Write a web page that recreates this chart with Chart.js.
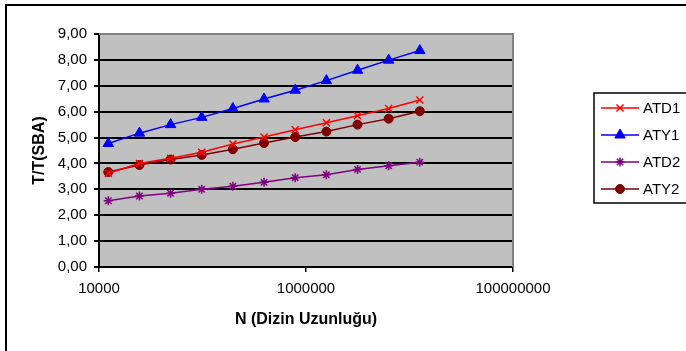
<!DOCTYPE html>
<html>
<head>
<meta charset="utf-8">
<script src="https://cdn.jsdelivr.net/npm/chart.js@4/dist/chart.umd.min.js"></script>
<style>
html,body{margin:0;padding:0;background:#fff;}
#wrap{width:686px;height:351px;position:relative;}
</style>
</head>
<body>
<div id="wrap"><canvas id="c" width="686" height="351"></canvas></div>
<script>
const nValues = [12288, 24576, 49152, 98304, 196608, 393216, 786432, 1572864, 3145728, 6291456, 12582912];
const seriesNames = ["ATD1", "ATY1", "ATD2", "ATY2"];
const atd1 = [3.62, 4.00, 4.20, 4.43, 4.75, 5.02, 5.30, 5.57, 5.84, 6.12, 6.45];
const aty1 = [4.77, 5.17, 5.50, 5.78, 6.12, 6.49, 6.83, 7.20, 7.60, 7.99, 8.36];
const atd2 = [2.56, 2.74, 2.85, 3.00, 3.12, 3.27, 3.45, 3.56, 3.77, 3.91, 4.05];
const aty2 = [3.67, 3.94, 4.15, 4.33, 4.55, 4.79, 5.02, 5.23, 5.50, 5.73, 6.02];
const xTickValues = [10000, 1000000, 100000000];
const yMin = 0, yMax = 9, yStep = 1;

const toPts = arr => arr.map((v, i) => ({x: nValues[i], y: v}));

const styles = [
  {color: '#FF0000', pointStyle: 'crossRot', radius: 5, bw: 1.5},
  {color: '#0000FF', pointStyle: 'triangle', radius: 6, bw: 1},
  {color: '#800080', pointStyle: 'star', radius: 4.5, bw: 1.5},
  {color: '#800000', pointStyle: 'circle', radius: 4.5, bw: 1}
];
const allData = [atd1, aty1, atd2, aty2];

const datasets = allData.map((arr, i) => ({
  label: seriesNames[i],
  data: toPts(arr),
  borderColor: styles[i].color,
  backgroundColor: styles[i].color,
  pointBackgroundColor: styles[i].color,
  pointBorderColor: styles[i].color,
  pointStyle: styles[i].pointStyle,
  pointRadius: styles[i].radius,
  pointBorderWidth: styles[i].bw,
  borderWidth: 1.5,
  showLine: true,
  tension: 0
}));

const decor = {
  id: 'decor',
  beforeDraw(chart) {
    const {ctx, chartArea: a} = chart;
    ctx.save();
    ctx.fillStyle = '#fff';
    ctx.fillRect(0, 0, chart.width, chart.height);
    ctx.fillStyle = '#C0C0C0';
    ctx.fillRect(a.left, a.top, a.right - a.left, a.bottom - a.top);
    ctx.restore();
  },
  beforeDatasetsDraw(chart) {
    const {ctx, chartArea: a} = chart;
    ctx.save();
    ctx.strokeStyle = '#808080';
    ctx.lineWidth = 2;
    ctx.beginPath();
    ctx.moveTo(a.left, a.top);
    ctx.lineTo(a.right, a.top);
    ctx.lineTo(a.right, a.bottom);
    ctx.stroke();
    ctx.restore();
  },
  afterDraw(chart) {
    const ctx = chart.ctx;
    ctx.save();
    // outer border
    ctx.strokeStyle = '#000';
    ctx.lineWidth = 2;
    ctx.strokeRect(6, 5, 720, 400);
    // legend box
    ctx.lineWidth = 1.5;
    ctx.strokeRect(594, 93, 120, 110);
    const ys = [108, 135, 162, 189];
    chart.data.datasets.forEach((ds, i) => {
      const y = ys[i];
      ctx.strokeStyle = ds.borderColor;
      ctx.lineWidth = 1.5;
      ctx.beginPath();
      ctx.moveTo(601, y);
      ctx.lineTo(639, y);
      ctx.stroke();
      ctx.fillStyle = ds.pointBackgroundColor;
      ctx.strokeStyle = ds.pointBorderColor;
      ctx.lineWidth = ds.pointBorderWidth;
      Chart.helpers.drawPoint(ctx, {pointStyle: ds.pointStyle, rotation: 0, radius: ds.pointRadius, borderWidth: ds.pointBorderWidth}, 620, y);
      ctx.fillStyle = '#000';
      ctx.font = '15px "Liberation Sans", Arial, sans-serif';
      ctx.textBaseline = 'middle';
      ctx.textAlign = 'left';
      ctx.fillText(ds.label, 643, y + 0.5);
    });
    ctx.restore();
  }
};

new Chart(document.getElementById('c'), {
  type: 'scatter',
  data: {datasets},
  options: {
    responsive: false,
    animation: false,
    devicePixelRatio: 1,
    layout: {padding: {left: 0, top: 34, right: 173, bottom: 0}},
    plugins: {legend: {display: false}, tooltip: {enabled: false}},
    scales: {
      x: {
        type: 'logarithmic',
        min: 10000,
        max: 100000000,
        afterBuildTicks: s => { s.ticks = xTickValues.map(v => ({value: v})); },
        afterFit: s => { s.height = 84; },
        ticks: {
          callback: v => String(v),
          color: '#000',
          font: {family: '"Liberation Sans", Arial, sans-serif', size: 15},
          padding: 8,
          maxRotation: 0,
          autoSkip: false
        },
        grid: {drawOnChartArea: false, drawTicks: true, tickLength: 5, color: '#000', lineWidth: 1.5},
        border: {color: '#000', width: 2},
        title: {
          display: true,
          text: 'N (Dizin Uzunluğu)',
          color: '#000',
          font: {family: '"Liberation Sans", Arial, sans-serif', size: 16, weight: 'bold'},
          padding: {top: 0, bottom: 22}
        }
      },
      y: {
        min: yMin,
        max: yMax,
        afterFit: s => { s.width = 99; },
        ticks: {
          stepSize: yStep,
          callback: v => v.toFixed(2).replace('.', ','),
          color: '#000',
          font: {family: '"Liberation Sans", Arial, sans-serif', size: 15},
          padding: 7
        },
        grid: {color: '#000', lineWidth: 2, tickLength: 5, drawTicks: true},
        border: {color: '#000', width: 2},
        title: {
          display: true,
          text: 'T/T(SBA)',
          color: '#000',
          font: {family: '"Liberation Sans", Arial, sans-serif', size: 16, weight: 'bold'},
          padding: {top: 30, bottom: 0}
        }
      }
    }
  },
  plugins: [decor]
});
</script>
</body>
</html>
